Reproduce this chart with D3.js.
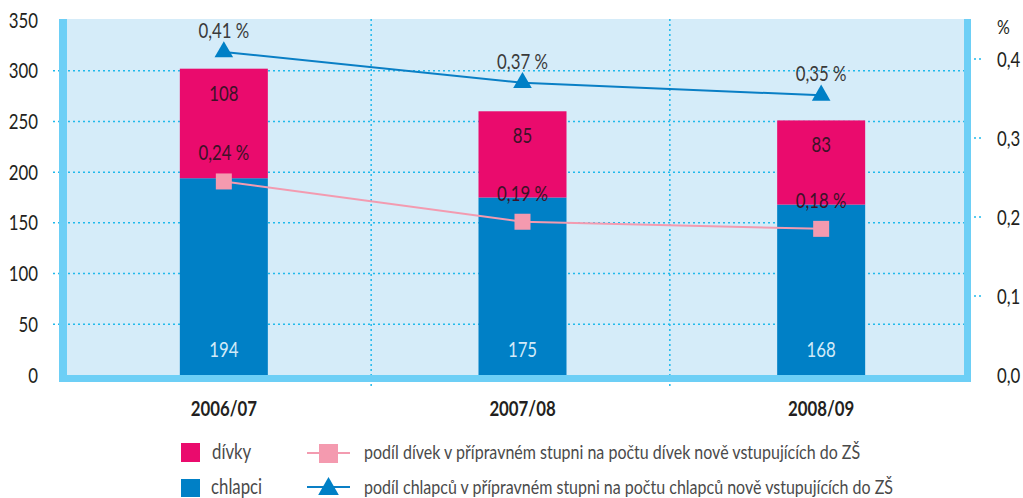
<!DOCTYPE html>
<html>
<head>
<meta charset="utf-8">
<script src="https://cdn.jsdelivr.net/npm/d3@7"></script>
<style>
  body { margin: 0; background: #fff; }
  svg text { font-family: Lato, "Open Sans", sans-serif; fill: #231f20; }
</style>
</head>
<body>
<script>
// data
var years = ["2006/07", "2007/08", "2008/09"];
var chlapci = [194, 175, 168];
var divky = [108, 85, 83];
var podilChlapcu = [0.409, 0.37, 0.354];
var podilDivek = [0.245, 0.194, 0.185];
var podilChlapcuText = ["0,41 %", "0,37 %", "0,35 %"];
var podilDivekText = ["0,24 %", "0,19 %", "0,18 %"];
var leftTicks = [0, 50, 100, 150, 200, 250, 300, 350];
var rightTicks = [0, 0.1, 0.2, 0.3, 0.4];

var width = 1023,
    height = 498;

// no condensed font here, so squeeze the text sideways
var squeeze = 0.8;
function at(px, py) {
    return "translate(" + px + "," + py + ") scale(" + squeeze + ",1)";
}

var svg = d3.select("body").append("svg")
    .attr("width", width)
    .attr("height", height);

var x = d3.scaleBand().domain(years).range([74.5, 970.5]);
var y = d3.scaleLinear().domain([0, 350]).range([375, 20]);
var y2 = d3.scaleLinear().domain([0, 0.45]).range([375, 19.5]);

var barW = 88;
var gridColor = "#1fb9ec";

function cx(d) { return x(d) + x.bandwidth() / 2; }

// plot background
svg.append("rect")
    .attr("x", 59).attr("y", 19)
    .attr("width", 912).attr("height", 363)
    .attr("fill", "#d5ecf9");

// horizontal grid (left axis)
svg.append("g").selectAll("line")
    .data(leftTicks.filter(function(d) { return d > 0 && d < 350; }))
    .enter().append("line")
    .attr("x1", 53).attr("x2", 964)
    .attr("y1", function(d) { return y(d); })
    .attr("y2", function(d) { return y(d); })
    .attr("stroke", gridColor)
    .attr("stroke-width", 1.5)
    .attr("stroke-dasharray", "2,3");

// small ticks on the right axis
svg.append("g").selectAll("line")
    .data(rightTicks.filter(function(d) { return d > 0; }))
    .enter().append("line")
    .attr("x1", 964).attr("x2", 981)
    .attr("y1", function(d) { return y2(d); })
    .attr("y2", function(d) { return y2(d); })
    .attr("stroke", gridColor)
    .attr("stroke-width", 1.5)
    .attr("stroke-dasharray", "2,3");

// vertical grid between categories
svg.append("g").selectAll("line")
    .data(years.slice(1))
    .enter().append("line")
    .attr("x1", function(d) { return x(d) - 2; })
    .attr("x2", function(d) { return x(d) - 2; })
    .attr("y1", 19).attr("y2", 388)
    .attr("stroke", gridColor)
    .attr("stroke-width", 1.5)
    .attr("stroke-dasharray", "2,3");

// frame: left, bottom, right
var frame = svg.append("g").attr("fill", "#6dcff6");
frame.append("rect").attr("x", 59).attr("y", 19).attr("width", 8).attr("height", 363);
frame.append("rect").attr("x", 59).attr("y", 375).attr("width", 912).attr("height", 7);
frame.append("rect").attr("x", 964).attr("y", 19).attr("width", 7).attr("height", 363);

// stacked bars
var bars = svg.append("g");
bars.selectAll(".boys")
    .data(years)
    .enter().append("rect")
    .attr("class", "boys")
    .attr("x", function(d) { return cx(d) - barW / 2; })
    .attr("width", barW)
    .attr("y", function(d, i) { return y(chlapci[i]); })
    .attr("height", function(d, i) { return y(0) - y(chlapci[i]); })
    .attr("fill", "#0080c6");

bars.selectAll(".girls")
    .data(years)
    .enter().append("rect")
    .attr("class", "girls")
    .attr("x", function(d) { return cx(d) - barW / 2; })
    .attr("width", barW)
    .attr("y", function(d, i) { return y(chlapci[i] + divky[i]); })
    .attr("height", function(d, i) { return y(chlapci[i]) - y(chlapci[i] + divky[i]); })
    .attr("fill", "#ea0b6d");

// bar labels
bars.selectAll(".boysLabel")
    .data(years)
    .enter().append("text")
    .attr("transform", function(d) { return at(cx(d), y(0) - 18); })
    .attr("text-anchor", "middle")
    .style("font-size", "21px")
    .style("fill", "#d2eaf8")
    .text(function(d, i) { return chlapci[i]; });

bars.selectAll(".girlsLabel")
    .data(years)
    .enter().append("text")
    .attr("transform", function(d, i) { return at(cx(d), y(chlapci[i] + divky[i]) + 32); })
    .attr("text-anchor", "middle")
    .style("font-size", "21px")
    .style("fill", "#3d1228")
    .text(function(d, i) { return divky[i]; });

// lines
var lineBoys = d3.line()
    .x(function(d) { return cx(d); })
    .y(function(d, i) { return y2(podilChlapcu[i]); });
var lineGirls = d3.line()
    .x(function(d) { return cx(d); })
    .y(function(d, i) { return y2(podilDivek[i]); });

svg.append("path")
    .datum(years)
    .attr("d", lineGirls)
    .attr("fill", "none")
    .attr("stroke", "#f39bb0")
    .attr("stroke-width", 2);

svg.append("path")
    .datum(years)
    .attr("d", lineBoys)
    .attr("fill", "none")
    .attr("stroke", "#0a7fc5")
    .attr("stroke-width", 2);

var tri = d3.symbol().type(d3.symbolTriangle).size(150);

svg.append("g").selectAll("path")
    .data(years)
    .enter().append("path")
    .attr("d", tri)
    .attr("transform", function(d, i) { return "translate(" + cx(d) + "," + y2(podilChlapcu[i]) + ")"; })
    .attr("fill", "#0080c6");

svg.append("g").selectAll("rect")
    .data(years)
    .enter().append("rect")
    .attr("x", function(d) { return cx(d) - 8; })
    .attr("y", function(d, i) { return y2(podilDivek[i]) - 8; })
    .attr("width", 16).attr("height", 16)
    .attr("fill", "#f49aaf");

// percent labels
svg.append("g").selectAll("text")
    .data(years)
    .enter().append("text")
    .attr("transform", function(d, i) { return at(cx(d), y2(podilChlapcu[i]) - 14); })
    .attr("text-anchor", "middle")
    .style("font-size", "21px")
    .style("fill", "#3a3a3a")
    .text(function(d, i) { return podilChlapcuText[i]; });

svg.append("g").selectAll("text")
    .data(years)
    .enter().append("text")
    .attr("transform", function(d, i) { return at(cx(d), y2(podilDivek[i]) - 21); })
    .attr("text-anchor", "middle")
    .style("font-size", "21px")
    .style("fill", "#3d1228")
    .text(function(d, i) { return podilDivekText[i]; });

// left axis labels
svg.append("g").selectAll("text")
    .data(leftTicks)
    .enter().append("text")
    .attr("transform", function(d) { return at(38, y(d) + 7.5); })
    .attr("text-anchor", "end")
    .style("font-size", "21px")
    .text(function(d) { return d; });

// right axis labels
var fmt = function(d) { return d3.format(".1f")(d).replace(".", ","); };
svg.append("g").selectAll("text")
    .data(rightTicks)
    .enter().append("text")
    .attr("transform", function(d) { return at(997, y2(d) + 7.5); })
    .style("font-size", "21px")
    .text(fmt);

svg.append("text")
    .attr("transform", at(997, 34))
    .style("font-size", "20px")
    .text("%");

// category labels
svg.append("g").selectAll("text")
    .data(years)
    .enter().append("text")
    .attr("transform", function(d) { return at(cx(d), 415.5); })
    .attr("text-anchor", "middle")
    .style("font-size", "21px")
    .style("font-weight", "bold")
    .text(function(d) { return d; });

// legend
var leg = svg.append("g");
var legTri = d3.symbol().type(d3.symbolTriangle).size(185);
leg.append("rect").attr("x", 181).attr("y", 443).attr("width", 19).attr("height", 19).attr("fill", "#ea0b6d");
leg.append("rect").attr("x", 181).attr("y", 479).attr("width", 19).attr("height", 18).attr("fill", "#0080c6");
leg.append("text").attr("transform", at(212, 459)).style("font-size", "21px").style("fill", "#4a4a4a").text("dívky");
leg.append("text").attr("transform", at(211, 494)).style("font-size", "21px").style("fill", "#4a4a4a").text("chlapci");

leg.append("line").attr("x1", 307).attr("x2", 350).attr("y1", 453).attr("y2", 453)
    .attr("stroke", "#f39bb0").attr("stroke-width", 2);
leg.append("rect").attr("x", 319).attr("y", 444).attr("width", 19).attr("height", 19).attr("fill", "#f49aaf");
leg.append("line").attr("x1", 307).attr("x2", 350).attr("y1", 487).attr("y2", 487)
    .attr("stroke", "#0a7fc5").attr("stroke-width", 2);
leg.append("path").attr("d", legTri).attr("transform", "translate(328.5,489)").attr("fill", "#0080c6");

leg.append("text").attr("transform", at(364, 459)).style("font-size", "20px").style("fill", "#4a4a4a")
    .text("podíl dívek v přípravném stupni na počtu dívek nově vstupujících do ZŠ");
leg.append("text").attr("transform", at(364, 494)).style("font-size", "20px").style("fill", "#4a4a4a")
    .text("podíl chlapců v přípravném stupni na počtu chlapců nově vstupujících do ZŠ");
</script>
</body>
</html>
